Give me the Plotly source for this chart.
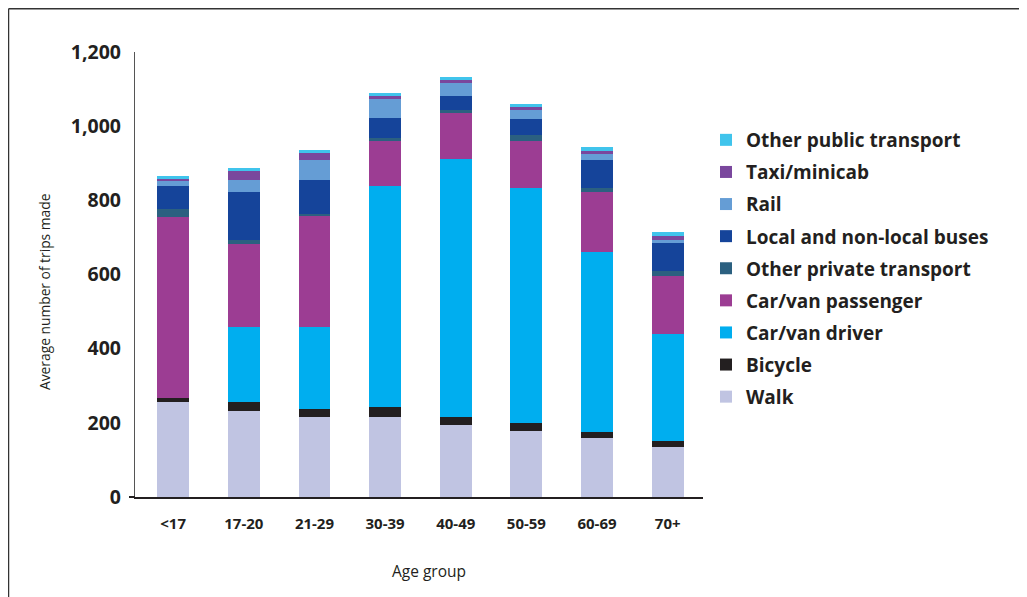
import plotly.graph_objects as go

age_groups = ["<17", "17-20", "21-29", "30-39", "40-49", "50-59", "60-69", "70+"]

walk = [256, 232, 216, 216, 194, 178, 159, 135]
bicycle = [11, 24, 21, 27, 22, 22, 16, 16]
car_driver = [0, 202, 221, 596, 696, 633, 486, 289]
car_passenger = [488, 224, 302, 121, 124, 127, 162, 156]
other_private = [22, 11, 3, 8, 8, 16, 10, 13]
buses = [62, 130, 92, 54, 37, 43, 76, 76]
rail = [13, 32, 54, 51, 36, 25, 16, 8]
taxi = [6, 24, 19, 8, 8, 8, 8, 11]
other_public = [8, 8, 8, 9, 8, 8, 11, 11]

series = [
    ("Walk", walk, "#c0c4e2"),
    ("Bicycle", bicycle, "#231f20"),
    ("Car/van driver", car_driver, "#00aeef"),
    ("Car/van passenger", car_passenger, "#9c3d93"),
    ("Other private transport", other_private, "#2b6080"),
    ("Local and non-local buses", buses, "#15449a"),
    ("Rail", rail, "#659dd5"),
    ("Taxi/minicab", taxi, "#7a479d"),
    ("Other public transport", other_public, "#40c4ec"),
]

x_title = "Age group"
y_title = "Average number of trips made"

FONT = "Open Sans"
DARK = "#231f20"

fig = go.Figure()
for i, (name, vals, col) in enumerate(series):
    fig.add_trace(go.Bar(
        x=age_groups, y=vals, name=name, legendgroup=f"g{i}",
        legendrank=100 - i,
        marker=dict(color=col, line=dict(width=0)), width=0.45,
    ))

# page is offset by 8px (body margin); coordinates below are in figure space
OFF = 8
W, H = 1027, 597
X0, X1 = 135 - OFF, 703 - OFF
Y0, Y1 = 52 - OFF, 497 - OFF
L, R, T, B = X0, W - X1, Y0, H - Y1
pw, ph = X1 - X0, Y1 - Y0

def px(x):
    return (x - OFF - X0) / pw

def py(y):
    return (Y1 - (y - OFF)) / ph

fig.update_layout(
    width=W, height=H,
    margin=dict(l=L, r=R, t=T, b=B, pad=0),
    barmode="stack",
    plot_bgcolor="white", paper_bgcolor="white",
    font=dict(family=FONT, color=DARK),
    showlegend=True,
    legend=dict(
        traceorder="grouped", tracegroupgap=4.4,
        x=px(706), xanchor="left", y=py(121), yanchor="top",
        font=dict(family=FONT, size=19, color=DARK, weight="bold"),
        bgcolor="rgba(0,0,0,0)",
    ),
    xaxis=dict(
        range=[-0.54, 7.5], showgrid=False, zeroline=False,
        showline=True, linecolor=DARK, linewidth=2,
        ticks="", tickfont=dict(family=FONT, size=15, color=DARK, weight="bold"),
        ticklabelstandoff=12,
        automargin=False,
    ),
    yaxis=dict(
        range=[0, 1200], dtick=200, showgrid=False, zeroline=False,
        showline=True, linecolor="#555555", linewidth=1.2,
        tickformat=",d", ticks="",
        tickfont=dict(family=FONT, size=19.5, color=DARK, weight="bold"),
        ticklabelstandoff=9,
        automargin=False,
    ),
    annotations=[
        dict(text=x_title, xref="paper", yref="paper", x=px(429), y=py(571),
             xanchor="center", yanchor="middle", showarrow=False,
             font=dict(family=FONT, size=15.5, color=DARK)),
        dict(text=y_title, xref="paper", yref="paper", x=px(44), y=py(292),
             xanchor="center", yanchor="middle", showarrow=False, textangle=-90,
             font=dict(family=FONT, size=13.8, color=DARK)),
    ],
    shapes=[
        # frame
        dict(type="line", xref="paper", yref="paper", x0=px(8.5), x1=px(W + 20), y0=py(8.7), y1=py(8.7),
             line=dict(color="#333333", width=1.5)),
        dict(type="line", xref="paper", yref="paper", x0=px(8.5), x1=px(8.5), y0=py(8.7), y1=py(H + 20),
             line=dict(color="#333333", width=1.5)),
        # small tick at zero
        dict(type="line", xref="paper", yref="paper", x0=px(129), x1=px(135), y0=0, y1=0,
             line=dict(color=DARK, width=2)),
    ],
)

fig.write_html("out.html")
